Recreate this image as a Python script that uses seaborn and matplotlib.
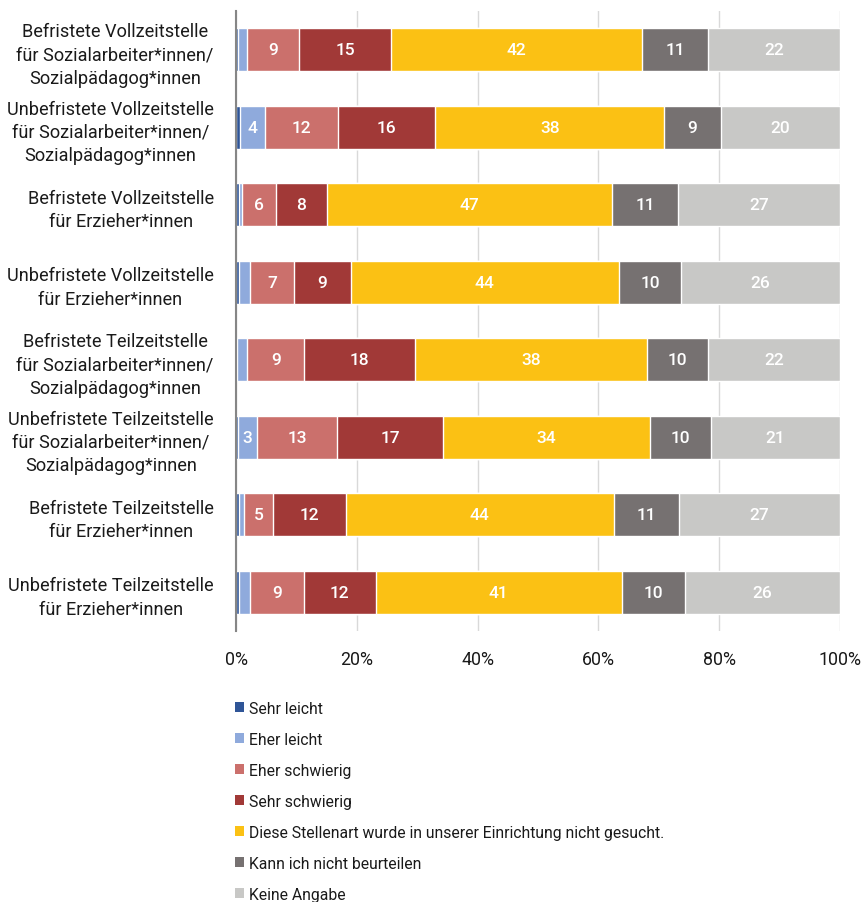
import numpy as np
import pandas as pd
import seaborn as sns
import matplotlib
matplotlib.use("Agg")
import matplotlib.pyplot as plt
from matplotlib.patches import Patch

categories = [
    "Befristete Vollzeitstelle\nfür Sozialarbeiter*innen/\nSozialpädagog*innen",
    "Unbefristete Vollzeitstelle\nfür Sozialarbeiter*innen/\nSozialpädagog*innen",
    "Befristete Vollzeitstelle\nfür Erzieher*innen",
    "Unbefristete Vollzeitstelle\nfür Erzieher*innen",
    "Befristete Teilzeitstelle\nfür Sozialarbeiter*innen/\nSozialpädagog*innen",
    "Unbefristete Teilzeitstelle\nfür Sozialarbeiter*innen/\nSozialpädagog*innen",
    "Befristete Teilzeitstelle\nfür Erzieher*innen",
    "Unbefristete Teilzeitstelle\nfür Erzieher*innen",
]

series_names = [
    "Sehr leicht",
    "Eher leicht",
    "Eher schwierig",
    "Sehr schwierig",
    "Diese Stellenart wurde in unserer Einrichtung nicht gesucht.",
    "Kann ich nicht beurteilen",
    "Keine Angabe",
]

sehr_leicht = [0.3, 0.7, 0.5, 0.5, 0.2, 0.3, 0.5, 0.5]
eher_leicht = [1.5, 4.1, 0.5, 1.9, 1.7, 3.1, 0.8, 1.9]
eher_schwierig = [8.7, 12.1, 5.6, 7.2, 9.4, 13.4, 4.9, 8.9]
sehr_schwierig = [15.2, 16.1, 8.4, 9.4, 18.3, 17.4, 12.0, 11.8]
nicht_gesucht = [41.6, 37.9, 47.3, 44.4, 38.4, 34.3, 44.3, 40.8]
nicht_beurteilen = [10.8, 9.4, 10.9, 10.3, 10.1, 10.1, 10.9, 10.4]
keine_angabe = [21.9, 19.7, 26.8, 26.3, 21.9, 21.4, 26.6, 25.7]

colors = ["#2F5597", "#8FAADC", "#CB706C", "#A13937", "#FBC114", "#767171", "#C8C8C6"]

series = [sehr_leicht, eher_leicht, eher_schwierig, sehr_schwierig,
          nicht_gesucht, nicht_beurteilen, keine_angabe]

FONT = "Roboto"
plt.rcParams["font.family"] = [FONT, "DejaVu Sans"]

fig = plt.figure(figsize=(8.66, 9.03), dpi=100)
ax = fig.add_axes([236 / 866, 1 - 632 / 903, (840 - 236) / 866, 620 / 903])

vals = np.array(series, dtype=float)  # shape (7, 8)
cum = np.cumsum(vals, axis=0)

for i in range(len(series) - 1, -1, -1):
    df = pd.DataFrame({"cat": categories, "cum": cum[i]})
    sns.barplot(data=df, x="cum", y="cat", orient="h", color=colors[i],
                saturation=1, width=0.555, edgecolor="white", linewidth=1.0,
                ax=ax, zorder=3)

# value labels
for i in range(len(series)):
    for j in range(len(categories)):
        v = vals[i, j]
        if v >= 2.5:
            ax.text(cum[i, j] - v / 2, j, f"{v:.0f}", ha="center", va="center",
                    color="white", fontsize=12.5, fontweight="medium", zorder=5)

ax.set_xlim(0, 100)
ax.set_ylim(7.5, -0.5)
ax.set_xticks([0, 20, 40, 60, 80, 100])
ax.set_xticklabels(["0%", "20%", "40%", "60%", "80%", "100%"])
ax.set_xlabel("")
ax.set_ylabel("")
ax.set_yticks(range(len(categories)))
ax.set_yticklabels(categories)
for t in ax.get_yticklabels():
    t.set_multialignment("center")
    t.set_fontsize(13.1)
    t.set_linespacing(1.38)
    t.set_color("#1a1a1a")
for t in ax.get_xticklabels():
    t.set_fontsize(12.8)
    t.set_color("#1a1a1a")
ax.tick_params(axis="both", length=0)
ax.tick_params(axis="y", pad=16)
ax.tick_params(axis="x", pad=14)

ax.grid(axis="x", color="#D9D9D9", linewidth=1.0, zorder=0)
ax.grid(axis="y", visible=False)
ax.set_axisbelow(True)
for s in ["top", "right", "bottom"]:
    ax.spines[s].set_visible(False)
ax.spines["left"].set_color("#868686")
ax.spines["left"].set_linewidth(1.5)
ax.spines["left"].set_zorder(6)

handles = [Patch(facecolor=c, edgecolor="none") for c in colors]
leg = fig.legend(handles, series_names, loc="upper left",
                 bbox_to_anchor=(227 / 866, 1 - 694 / 903), frameon=False,
                 fontsize=11.3, handlelength=0.6, handleheight=0.6,
                 handletextpad=0.3, labelspacing=1.02, borderpad=0.0)
for t in leg.get_texts():
    t.set_color("#1a1a1a")

fig.savefig("out.png", dpi=100)
